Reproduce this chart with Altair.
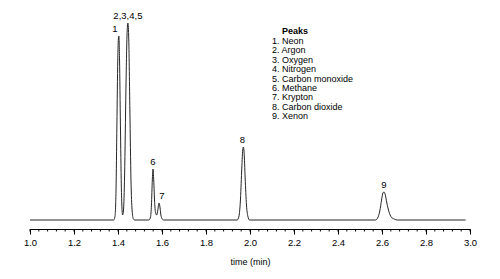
import altair as alt
import pandas as pd

# chromatogram trace: time (min) and detector signal (arb.)
times = [1.000, 1.380, 1.386, 1.391, 1.395, 1.399, 1.402, 1.404, 1.407, 1.411, 1.415, 1.418, 1.421,
         1.425, 1.430, 1.436, 1.441, 1.445, 1.449, 1.454, 1.459, 1.464, 1.470, 1.476,
         1.540, 1.548, 1.552, 1.556, 1.559, 1.562, 1.566, 1.571, 1.576, 1.581, 1.586, 1.590, 1.595, 1.601, 1.608,
         1.942, 1.950, 1.956, 1.962, 1.967, 1.970, 1.973, 1.978, 1.984, 1.990, 1.998,
         2.570, 2.580, 2.590, 2.598, 2.604, 2.609, 2.614, 2.622, 2.632, 2.642, 2.655, 2.670, 2.980]
signal = [0, 0, 3, 30, 95, 160, 182, 184, 160, 95, 35, 12, 5,
          10, 45, 130, 185, 197, 180, 110, 40, 10, 1, 0,
          0, 3, 15, 40, 51, 42, 20, 7, 5, 10, 17, 14, 5, 1, 0,
          0, 4, 18, 48, 70, 73, 68, 42, 15, 4, 0,
          0, 2, 9, 20, 27, 28, 26, 17, 8, 3, 1, 0, 0]

# peak labels: text, apex time, apex signal, horizontal nudge
peak_labels = ["1", "2,3,4,5", "6", "7", "8", "9"]
peak_times = [1.404, 1.445, 1.559, 1.586, 1.970, 2.609]
peak_heights = [184, 197, 51, 17, 73, 28]
peak_dx = [-4, 0, 0, 3, -1, 0]

legend_title = "Peaks"
legend_items = ["1. Neon", "2. Argon", "3. Oxygen", "4. Nitrogen", "5. Carbon monoxide",
                "6. Methane", "7. Krypton", "8. Carbon dioxide", "9. Xenon"]

major_ticks = [1.0, 1.2, 1.4, 1.6, 1.8, 2.0, 2.2, 2.4, 2.6, 2.8, 3.0]
minor_ticks = [round(1.0 + 0.04 * i, 2) for i in range(51)]

FONT = "Liberation Sans"
W, H = 440, 219
XT = "time (min)"

xs = alt.Scale(domain=[1.0, 3.0], nice=False, zero=False)
ys = alt.Scale(domain=[-9, 210], nice=False, zero=False)

trace = pd.DataFrame({"t": times, "s": signal})
line = alt.Chart(trace).mark_line(color="#262626", strokeWidth=1, interpolate="monotone").encode(
    x=alt.X("t:Q", scale=xs, title=XT,
            axis=alt.Axis(values=major_ticks, format=".1f", labelFlush=False,
                          domainColor="#000", tickColor="#000", tickSize=5, labelPadding=3,
                          labelFontSize=9.5, labelColor="#000", labelFont=FONT,
                          titleFont=FONT, titleFontSize=9, titleFontWeight="normal",
                          titleColor="#000", titlePadding=11, grid=False)),
    y=alt.Y("s:Q", scale=ys, axis=None),
)

minor = alt.Chart(pd.DataFrame({"m": minor_ticks})).mark_rule(color="#000", strokeWidth=1).encode(
    x=alt.X("m:Q", scale=xs, title=XT),
    y=alt.value(H),
    y2=alt.value(H + 2.5),
)

layers = [line, minor]
for lab, t, h, dx in zip(peak_labels, peak_times, peak_heights, peak_dx):
    df = pd.DataFrame({"t": [t], "s": [h], "lab": [lab]})
    layers.append(
        alt.Chart(df).mark_text(font=FONT, fontSize=9.5, color="#000", dx=dx, dy=-7,
                                baseline="middle", align="center").encode(
            x=alt.X("t:Q", scale=xs, title=XT), y=alt.Y("s:Q", scale=ys, axis=None), text="lab:N")
    )

title_df = pd.DataFrame({"lab": [legend_title]})
layers.append(
    alt.Chart(title_df).mark_text(font=FONT, fontSize=9, fontWeight="bold", color="#000",
                                  align="left", baseline="middle").encode(
        x=alt.value(252), y=alt.value(21), text="lab:N")
)
for i, item in enumerate(legend_items):
    layers.append(
        alt.Chart(pd.DataFrame({"lab": [item]})).mark_text(
            font=FONT, fontSize=9, color="#000", align="left", baseline="middle").encode(
            x=alt.value(242), y=alt.value(31 + 9.4 * i), text="lab:N")
    )

chart = alt.layer(*layers).properties(
    width=W, height=H,
    background="white",
    autosize=alt.AutoSizeParams(type="none"),
    padding={"left": 30, "top": 10, "right": 30, "bottom": 50},
).configure_view(stroke=None).configure_axis(grid=False)

chart.save("out.html", embed_options={"renderer": "svg", "actions": False})
